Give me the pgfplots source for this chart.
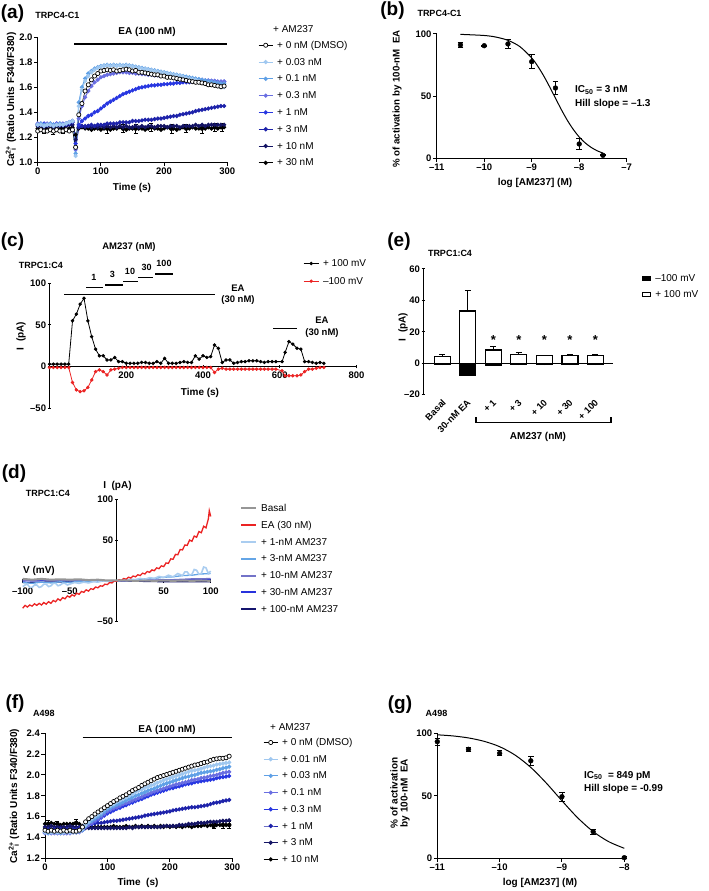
\documentclass[border=0pt]{standalone}
\usepackage{fontspec}
\setmainfont{Liberation Sans}
\usepackage{pgfplots}
\usepackage{pgfplotstable}
\pgfplotsset{compat=1.18}

\definecolor{cA}{RGB}{160,200,240}
\definecolor{cB}{RGB}{95,160,230}
\definecolor{cC}{RGB}{105,110,225}
\definecolor{cD}{RGB}{40,55,225}
\definecolor{cE}{RGB}{30,35,170}
\definecolor{cF}{RGB}{20,20,100}
\definecolor{dgray}{RGB}{150,150,150}
\definecolor{dred}{RGB}{235,35,35}
\definecolor{dA}{RGB}{170,205,240}
\definecolor{dB}{RGB}{100,165,230}
\definecolor{dC}{RGB}{115,115,200}
\definecolor{dD}{RGB}{40,50,220}
\definecolor{dE}{RGB}{20,20,110}

\newcommand{\fsz}[1]{\fontsize{#1}{#1}\selectfont}

\pgfplotsset{
  prism/.style={scale only axis, axis lines=left, axis line style={-, line width=1pt},
    tick align=outside, major tick length=3.5pt, tick style={black, line width=1pt},
    ticklabel style={font=\fsz{9.5}\bfseries, inner sep=1.5pt},
    enlargelimits=false, clip=false, anchor=south west},
  leg/.style={legend style={draw=none, fill=none, anchor=north west, inner sep=0pt,
    row sep=#1, column sep=3pt, font=\fsz{10},
    nodes={inner sep=1pt, text height=8pt, text depth=2pt}}, legend cell align=left},
  tr/.style={line width=1pt, mark=*, mark size=1.6pt},
  eb/.style={black, only marks, mark=none, forget plot,
    error bars/.cd, y dir=both, y explicit, error bar style={line width=0.7pt},
    error mark options={rotate=90, mark size=2pt, line width=0.7pt}},
}

\pgfplotstableread{
t d0 a b c e1 e3 e10 e30
0 1.25 1.30 1.30 1.31 1.30 1.30 1.29 1.27
5 1.26 1.30 1.31 1.31 1.30 1.30 1.29 1.27
10 1.25 1.29 1.30 1.30 1.31 1.29 1.28 1.26
15 1.25 1.30 1.30 1.31 1.30 1.30 1.29 1.27
20 1.26 1.30 1.31 1.31 1.30 1.30 1.29 1.27
25 1.25 1.29 1.30 1.30 1.30 1.29 1.28 1.26
30 1.26 1.30 1.30 1.31 1.31 1.30 1.29 1.27
35 1.25 1.30 1.31 1.31 1.30 1.30 1.29 1.27
40 1.25 1.30 1.30 1.31 1.30 1.30 1.29 1.28
45 1.26 1.31 1.31 1.31 1.31 1.30 1.29 1.27
50 1.25 1.32 1.32 1.32 1.32 1.31 1.30 1.27
55 1.26 1.33 1.33 1.33 1.33 1.32 1.30 1.28
60 1.12 1.05 1.07 1.10 1.15 1.12 1.18 1.22
65 1.38 1.45 1.48 1.35 1.30 1.28 1.28 1.27
70 1.47 1.58 1.60 1.45 1.33 1.29 1.29 1.28
75 1.57 1.65 1.67 1.52 1.35 1.29 1.28 1.27
80 1.62 1.69 1.71 1.57 1.37 1.29 1.29 1.27
85 1.66 1.72 1.73 1.61 1.38 1.30 1.28 1.26
90 1.69 1.74 1.75 1.64 1.40 1.29 1.29 1.27
95 1.71 1.755 1.76 1.66 1.41 1.30 1.28 1.27
100 1.73 1.765 1.77 1.68 1.43 1.30 1.29 1.26
105 1.735 1.77 1.775 1.69 1.45 1.30 1.28 1.27
110 1.74 1.775 1.78 1.70 1.47 1.31 1.29 1.27
115 1.735 1.77 1.775 1.705 1.485 1.31 1.28 1.26
120 1.74 1.775 1.78 1.71 1.50 1.31 1.29 1.27
125 1.73 1.77 1.775 1.715 1.515 1.31 1.28 1.27
130 1.735 1.775 1.78 1.72 1.53 1.32 1.29 1.28
135 1.74 1.77 1.775 1.72 1.545 1.32 1.28 1.27
140 1.745 1.775 1.78 1.72 1.555 1.32 1.29 1.26
145 1.74 1.77 1.775 1.715 1.565 1.32 1.28 1.27
150 1.73 1.765 1.77 1.715 1.575 1.33 1.28 1.27
155 1.735 1.76 1.765 1.71 1.585 1.33 1.29 1.28
160 1.72 1.755 1.76 1.71 1.595 1.33 1.28 1.27
165 1.72 1.75 1.755 1.705 1.60 1.335 1.29 1.27
170 1.715 1.745 1.75 1.705 1.605 1.34 1.28 1.26
175 1.71 1.74 1.745 1.70 1.61 1.34 1.29 1.27
180 1.705 1.735 1.74 1.70 1.615 1.34 1.29 1.28
185 1.70 1.73 1.735 1.695 1.615 1.345 1.28 1.27
190 1.70 1.725 1.73 1.695 1.62 1.35 1.29 1.27
195 1.69 1.72 1.725 1.69 1.62 1.35 1.29 1.26
200 1.69 1.715 1.72 1.69 1.625 1.355 1.29 1.27
205 1.68 1.71 1.715 1.685 1.625 1.36 1.28 1.28
210 1.68 1.705 1.71 1.685 1.63 1.365 1.29 1.27
215 1.675 1.70 1.705 1.68 1.63 1.37 1.29 1.27
220 1.67 1.695 1.70 1.68 1.635 1.37 1.29 1.26
225 1.665 1.69 1.695 1.675 1.635 1.38 1.28 1.27
230 1.66 1.685 1.69 1.675 1.64 1.385 1.29 1.28
235 1.655 1.675 1.685 1.67 1.64 1.39 1.29 1.27
240 1.65 1.67 1.68 1.67 1.64 1.395 1.29 1.27
245 1.645 1.665 1.675 1.665 1.645 1.40 1.29 1.28
250 1.64 1.66 1.67 1.665 1.645 1.41 1.30 1.27
255 1.64 1.65 1.665 1.66 1.645 1.415 1.29 1.27
260 1.635 1.64 1.66 1.66 1.645 1.42 1.30 1.28
265 1.63 1.635 1.655 1.655 1.65 1.425 1.29 1.27
270 1.62 1.63 1.65 1.655 1.65 1.43 1.30 1.28
275 1.62 1.625 1.645 1.65 1.65 1.435 1.30 1.27
280 1.615 1.62 1.64 1.65 1.65 1.44 1.30 1.28
285 1.61 1.61 1.635 1.645 1.645 1.445 1.30 1.27
290 1.605 1.60 1.63 1.645 1.645 1.45 1.30 1.28
295 1.61 1.60 1.63 1.645 1.645 1.45 1.30 1.28
}\tA

\pgfplotstableread{
t d0 a b c e g h k
0 1.47 1.45 1.45 1.44 1.45 1.48 1.50 1.53
5 1.46 1.45 1.44 1.44 1.45 1.48 1.50 1.53
10 1.47 1.45 1.45 1.44 1.45 1.48 1.51 1.54
15 1.46 1.45 1.45 1.44 1.45 1.48 1.50 1.53
20 1.47 1.45 1.45 1.44 1.45 1.48 1.50 1.53
25 1.46 1.45 1.44 1.44 1.45 1.48 1.50 1.52
30 1.47 1.45 1.45 1.44 1.45 1.48 1.50 1.53
35 1.46 1.45 1.45 1.44 1.45 1.48 1.50 1.53
40 1.47 1.45 1.45 1.44 1.45 1.48 1.51 1.53
45 1.46 1.45 1.45 1.45 1.45 1.48 1.50 1.53
50 1.46 1.45 1.45 1.45 1.45 1.48 1.50 1.54
55 1.47 1.46 1.46 1.45 1.46 1.49 1.50 1.53
60 1.50 1.48 1.47 1.47 1.47 1.50 1.50 1.51
65 1.55 1.52 1.51 1.50 1.50 1.52 1.49 1.50
70 1.58 1.55 1.54 1.52 1.52 1.53 1.49 1.50
75 1.60 1.58 1.56 1.54 1.53 1.535 1.49 1.50
80 1.625 1.60 1.58 1.56 1.55 1.535 1.49 1.50
85 1.645 1.62 1.60 1.58 1.57 1.54 1.49 1.50
90 1.665 1.64 1.62 1.60 1.59 1.54 1.49 1.50
95 1.685 1.67 1.645 1.625 1.61 1.545 1.49 1.50
100 1.705 1.69 1.67 1.65 1.63 1.55 1.49 1.50
105 1.725 1.705 1.685 1.665 1.645 1.555 1.49 1.50
110 1.745 1.72 1.70 1.68 1.66 1.56 1.49 1.51
115 1.76 1.74 1.715 1.69 1.675 1.56 1.49 1.50
120 1.78 1.755 1.725 1.705 1.685 1.565 1.49 1.50
125 1.795 1.77 1.74 1.72 1.70 1.57 1.49 1.50
130 1.81 1.785 1.755 1.73 1.71 1.575 1.49 1.51
135 1.83 1.80 1.77 1.74 1.725 1.58 1.50 1.50
140 1.85 1.815 1.785 1.755 1.735 1.585 1.49 1.50
145 1.865 1.835 1.80 1.765 1.75 1.59 1.50 1.51
150 1.88 1.85 1.81 1.78 1.76 1.595 1.50 1.50
155 1.90 1.86 1.825 1.79 1.77 1.60 1.50 1.51
160 1.915 1.875 1.835 1.805 1.785 1.61 1.50 1.50
165 1.93 1.885 1.85 1.815 1.795 1.615 1.50 1.51
170 1.945 1.90 1.86 1.83 1.81 1.62 1.50 1.50
175 1.96 1.91 1.87 1.84 1.82 1.625 1.50 1.51
180 1.975 1.925 1.885 1.85 1.83 1.63 1.50 1.50
185 1.985 1.935 1.895 1.86 1.84 1.635 1.50 1.51
190 1.995 1.95 1.91 1.87 1.85 1.64 1.51 1.50
195 2.005 1.96 1.92 1.88 1.86 1.645 1.51 1.51
200 2.015 1.97 1.93 1.89 1.87 1.65 1.51 1.50
205 2.025 1.98 1.94 1.90 1.875 1.66 1.51 1.51
210 2.035 1.99 1.95 1.91 1.885 1.665 1.51 1.50
215 2.045 2.00 1.96 1.915 1.89 1.67 1.52 1.51
220 2.055 2.01 1.97 1.925 1.90 1.675 1.52 1.50
225 2.065 2.02 1.98 1.93 1.91 1.68 1.52 1.51
230 2.075 2.03 1.985 1.94 1.915 1.685 1.53 1.51
235 2.085 2.04 1.995 1.95 1.92 1.69 1.53 1.50
240 2.095 2.045 2.00 1.955 1.93 1.69 1.53 1.51
245 2.10 2.05 2.01 1.96 1.935 1.695 1.54 1.51
250 2.11 2.06 2.02 1.97 1.94 1.70 1.54 1.51
255 2.12 2.07 2.025 1.975 1.945 1.705 1.54 1.52
260 2.125 2.08 2.03 1.98 1.95 1.71 1.545 1.51
265 2.14 2.085 2.035 1.99 1.955 1.72 1.55 1.52
270 2.15 2.09 2.04 1.995 1.96 1.73 1.55 1.51
275 2.155 2.10 2.05 2.00 1.97 1.735 1.55 1.52
280 2.16 2.105 2.055 2.01 1.975 1.74 1.555 1.52
285 2.16 2.11 2.065 2.02 1.98 1.75 1.56 1.52
290 2.165 2.115 2.07 2.025 1.985 1.755 1.56 1.52
295 2.18 2.12 2.08 2.03 1.99 1.76 1.565 1.52
}\tF

\pgfplotstableread{
t p m
0 3 -1
10 3 -1
20 3 -1
30 3 -1
40 3 -1
50 3 -1
60 55 -19
70 63 -28
80 75 -30
90 82 -29
100 55 -25
110 36 -16
120 21 -6
130 13 -4
140 13 -6
150 8 -10
160 8 -4
170 11 -3
180 6 -2
190 6 -1
200 4 -1
210 4 -1
220 4 -1
230 4 -1
240 5 -1
250 5 -1
260 4 -1
270 4 -1
280 6 -1
290 4 -1
300 10 -1
310 4 -1
320 4 -1
330 4 -1
340 5 -1
350 6 -1
360 5 -1
370 5 -1
380 13 -1
390 9 -1
400 13 -1
410 11 -1
420 12 -1
430 26 -7
440 22 -3
450 5 -2
460 8 -3
470 8 -3
480 4 -3
490 5 -3
500 6 -3
510 6 -3
520 7 -3
530 7 -3
540 7 -3
550 6 -3
560 5 -3
570 6 -3
580 6 -3
590 6 -3
606 6 -5
614 17 -11
624 30 -11
634 27 -11
645 22 -11
655 21 -10
665 6 -6
675 6 -3
685 5 -3
695 4 -2
705 5 -1
715 4 -1
}\tC

\begin{document}
\begin{tikzpicture}
\path[use as bounding box] (0,0) rectangle (709pt,891pt);

% ---------------- (a)
\begin{axis}[prism, at={(37.7pt,728.7pt)}, width=189.6pt, height=125pt,
  xmin=0, xmax=300, ymin=1, ymax=2,
  xtick={0,100,200,300}, xticklabels={0,100,200,300},
  ytick={1,1.2,1.4,1.6,1.8,2}, yticklabels={1.0,1.2,1.4,1.6,1.8,2.0},
  leg=4.8pt, legend style={at={(1.162,0.986)}}, reverse legend,
  legend image code/.code={\draw[mark repeat=2,mark phase=2,#1] plot coordinates {(0pt,0pt) (7pt,0pt) (14pt,0pt)};}]
\addplot[eb] coordinates {(10,1.26) +- (0,0.03) (25,1.25) +- (0,0.03) (40,1.26) +- (0,0.03) (110,1.27) +- (0,0.035) (135,1.27) +- (0,0.03) (155,1.27) +- (0,0.035) (180,1.28) +- (0,0.03) (212,1.27) +- (0,0.035) (235,1.27) +- (0,0.03) (260,1.27) +- (0,0.035) (280,1.28) +- (0,0.03) (292,1.28) +- (0,0.035)};
\addplot[black, tr] table[x=t,y=e30]{\tA}; \addlegendentry{+ 30 nM}
\addplot[cF, tr] table[x=t,y=e10]{\tA}; \addlegendentry{+ 10 nM}
\addplot[cE, tr] table[x=t,y=e3]{\tA}; \addlegendentry{+ 3 nM}
\addplot[cD, tr] table[x=t,y=e1]{\tA}; \addlegendentry{+ 1 nM}
\addplot[cC, tr] table[x=t,y=c]{\tA}; \addlegendentry{+ 0.3 nM}
\addplot[cB, tr] table[x=t,y=b]{\tA}; \addlegendentry{+ 0.1 nM}
\addplot[cA, tr] table[x=t,y=a]{\tA}; \addlegendentry{+ 0.03 nM}
\addplot[black, line width=0.6pt, mark=*, mark size=2.1pt, mark options={fill=white, line width=0.7pt}] table[x=t,y=d0]{\tA}; \addlegendentry{+ 0 nM (DMSO)}
\end{axis}

% ---------------- (b)
\begin{axis}[prism, at={(436.7pt,732.3pt)}, width=190pt, height=124.7pt,
  xmin=-11, xmax=-7, ymin=0, ymax=100,
  xtick={-11,-10,-9,-8,-7}, xticklabels={--11,--10,--9,--8,--7},
  ytick={0,50,100}, yticklabels={0,50,100}]
\addplot[black, line width=1pt, smooth] coordinates {(-10.5,99.7) (-10,98.8) (-9.75,97.5) (-9.5,94.9) (-9.25,89.9) (-9,80.8) (-8.875,74.3) (-8.75,66.6) (-8.625,57.8) (-8.5,48.5) (-8.375,39.3) (-8.25,30.8) (-8.125,23.5) (-8,17.4) (-7.875,12.7) (-7.75,9.1) (-7.625,6.4) (-7.5,4.5)};
\addplot[black, only marks, mark=*, mark size=2.4pt,
  error bars/.cd, y dir=both, y explicit, error bar style={line width=0.9pt},
  error mark options={rotate=90, mark size=2.8pt, line width=0.9pt}]
  table[x=x, y=y, y error=e]{
x y e
-10.5 91.2 2
-10 90.6 0.5
-9.5 92 3.5
-9 77.8 5.6
-8.5 56.7 5.3
-8 11.8 4.7
-7.5 2.7 0.5
};
\end{axis}

% ---------------- (c)
\begin{axis}[prism, axis lines=middle, axis line style={-, line width=1pt},
  at={(49.5pt,482.7pt)}, width=307pt, height=125pt,
  xmin=0, xmax=800, ymin=-50, ymax=100,
  xtick={200,400,600,800}, xticklabels={200,400,600,800},
  xticklabel shift=2pt,
  ytick={-50,0,50,100}, yticklabels={--50,0,50,100},
  hide obscured y ticks=false, hide obscured x ticks=false,
  leg=5.7pt, legend style={at={(0.826,1.208)}}, reverse legend,
  legend image code/.code={\draw[mark repeat=2,mark phase=2,#1] plot coordinates {(0pt,0pt) (7.5pt,0pt) (15pt,0pt)};}]
\addplot[dred, line width=0.8pt, mark=*, mark size=1.3pt] table[x=t,y=m]{\tC}; \addlegendentry{--100 mV}
\addplot[black, line width=0.8pt, mark=*, mark size=1.3pt] table[x=t,y=p]{\tC}; \addlegendentry{+ 100 mV}
\end{axis}

% ---------------- (e)
\begin{axis}[prism, axis x line=middle, axis y line=left, axis line style={-, line width=1pt},
  at={(423.3pt,496.3pt)}, width=190pt, height=125.7pt,
  xmin=-0.745, xmax=6.7, ymin=-20, ymax=60,
  xtick={0,1,2,3,4,5,6}, xticklabels={},
  ytick={-20,0,20,40,60}, yticklabels={--20,0,20,40,60},
  hide obscured x ticks=false,
  leg=4pt, legend style={at={(1.149,0.974)}},
  legend image code/.code={\draw[#1, line width=1pt] (0pt,-2.4pt) rectangle (8.5pt,2.4pt);}]
\addplot[ybar, bar width=16pt, bar shift=0pt, fill=black, draw=black, line width=1.2pt]
  coordinates {(0,-0.5) (1,-7.5) (2,-1.5) (3,-1) (4,-1) (5,-1) (6,-1)}; \addlegendentry{--100 mV}
\addplot[ybar, bar width=16pt, bar shift=0pt, fill=white, draw=black, line width=1.2pt,
  error bars/.cd, y dir=plus, y explicit, error bar style={line width=1.2pt},
  error mark options={rotate=90, mark size=3pt, line width=1.2pt}]
  table[x=x, y=y, y error=e]{
x y e
0 4.2 1.5
1 33.3 12.9
2 8.5 2.1
3 5.7 0.9
4 4.7 0.3
5 5.1 0.6
6 4.8 0.7
}; \addlegendentry{+ 100 mV}
\node[font=\fsz{13}\bfseries, inner sep=0pt] at (axis cs:2,14.5) {*};
\node[font=\fsz{13}\bfseries, inner sep=0pt] at (axis cs:3,14.5) {*};
\node[font=\fsz{13}\bfseries, inner sep=0pt] at (axis cs:4,14.5) {*};
\node[font=\fsz{13}\bfseries, inner sep=0pt] at (axis cs:5,14.5) {*};
\node[font=\fsz{13}\bfseries, inner sep=0pt] at (axis cs:6,14.5) {*};
\node[font=\fsz{9.3}\bfseries, rotate=45, anchor=east, inner sep=0pt] at (axis cs:0.08,-24) {Basal};
\node[font=\fsz{9.3}\bfseries, rotate=45, anchor=east, inner sep=0pt] at (axis cs:1.05,-24) {30-nM EA};
\node[font=\fsz{9.3}\bfseries, rotate=45, anchor=east, inner sep=0pt] at (axis cs:2.05,-24) {+ 1};
\node[font=\fsz{9.3}\bfseries, rotate=45, anchor=east, inner sep=0pt] at (axis cs:3.05,-24) {+ 3};
\node[font=\fsz{9.3}\bfseries, rotate=45, anchor=east, inner sep=0pt] at (axis cs:4.05,-24) {+ 10};
\node[font=\fsz{9.3}\bfseries, rotate=45, anchor=east, inner sep=0pt] at (axis cs:5.05,-24) {+ 30};
\node[font=\fsz{9.3}\bfseries, rotate=45, anchor=east, inner sep=0pt] at (axis cs:6.05,-24) {+ 100};
\end{axis}

% ---------------- (d)
\begin{axis}[prism, axis lines=middle, axis line style={-, line width=1pt},
  at={(22.7pt,269.3pt)}, width=188pt, height=122.4pt,
  xmin=-100, xmax=100, ymin=-50, ymax=100,
  xtick={-100,-50,50,100}, xticklabels={--100,--50,50,100},
  xticklabel shift=4pt,
  ytick={-50,50,100}, yticklabels={--50,50,100},
  leg=4.8pt, legend style={at={(1.156,0.9755)}}, reverse legend,
  legend image code/.code={\draw[#1, line width=2pt] (0pt,0pt) -- (15pt,0pt);}]
\addplot[color=dE, line width=1.3pt] coordinates {(-100,-2) (-75,-1.5) (-50,-1) (-25,-0.5) (0,0) (25,-0.5) (50,-1) (75,-1) (100,-1)}; \addlegendentry{+ 100-nM AM237}
\addplot[color=dD, line width=1.3pt] coordinates {(-100,0) (-75,0.5) (-50,0.5) (-25,0) (0,0) (25,0.5) (50,1) (75,1.5) (100,2)}; \addlegendentry{+ 30-nM AM237}
\addplot[color=dC, line width=1.3pt] coordinates {(-100,1) (-90,0.5) (-80,1.5) (-70,0.5) (-60,1) (-50,0) (-40,0.5) (-30,0) (-20,0.5) (-10,0) (0,0) (10,0.5) (20,0.5) (30,1) (40,1) (50,1.5) (60,1.5) (70,2) (80,2.5) (90,2.5) (100,3)}; \addlegendentry{+ 10-nM AM237}
\addplot[color=dB, line width=1.3pt] coordinates {(-100,-2) (-90,-3) (-80,-1.5) (-70,-2.5) (-60,-1) (-50,-2) (-40,-0.5) (-30,-1) (-20,0) (-10,-0.5) (0,0) (10,1) (20,1.5) (30,2.5) (40,3) (50,4.5) (60,5) (70,6.5) (80,7) (90,8.5) (100,9)}; \addlegendentry{+ 3-nM AM237}
\addplot[color=dA, line width=1.6pt] coordinates {(-100,-7) (-97.5,-5) (-95,-4) (-92.5,-8) (-90,-8) (-87.5,-5) (-85,-5) (-82.5,-8) (-80,-7) (-77.5,-4) (-75,-4) (-72.5,-7) (-70,-6) (-67.5,-3) (-65,-3) (-62.5,-6) (-60,-5) (-57.5,-3) (-55,-3) (-52.5,-5) (-50,-4) (-45,-2) (-40,-3) (-35,-1.5) (-30,-2.5) (-25,-1) (-20,-1.5) (-15,0) (-10,-0.5) (-5,0.5) (0,0) (5,1) (10,0.5) (15,2) (20,1.5) (25,3) (30,2) (35,4) (40,3) (45,5.5) (50,4) (55,7) (60,5) (65,9) (70,6.5) (72.5,11) (75,11) (77.5,7) (80,8) (82.5,14) (85,13) (87.5,8) (90,9) (92.5,17) (95,16) (97.5,9) (100,12)}; \addlegendentry{+ 1-nM AM237}
\addplot[color=dred, line width=1.3pt] coordinates {(-100,-33.5) (-97.5,-30.0) (-95,-32.0) (-92.5,-29.5) (-90,-31.0) (-87.5,-28.0) (-85,-30.0) (-82.5,-27.5) (-80,-29.5) (-77.5,-26.5) (-75,-28.5) (-72.5,-25.5) (-70,-27.5) (-67.5,-24.0) (-65,-25.5) (-62.5,-22.0) (-60,-24.0) (-57.5,-20.5) (-55,-22.0) (-52.5,-18.5) (-50,-20.0) (-47.5,-17.0) (-45,-18.5) (-42.5,-15.0) (-40,-16.5) (-37.5,-13.0) (-35,-14.0) (-32.5,-11.0) (-30,-12.5) (-27.5,-9.5) (-25,-10.5) (-22.5,-7.5) (-20,-8.5) (-17.5,-6.0) (-15,-6.5) (-12.5,-4.0) (-10,-4.5) (-7.5,-2.0) (-5,-2.5) (-2.5,0.0) (0,-0.5) (2.5,1.5) (5,0.5) (7.5,3.0) (10,2.0) (12.5,4.5) (15,3.5) (17.5,6.0) (20,5.0) (22.5,7.5) (25,6.5) (27.5,9.5) (30,8.5) (32.5,11.5) (35,10.5) (37.5,13.5) (40,12.5) (42.5,16.0) (45,15.0) (47.5,18.5) (50,17.5) (52.5,22.0) (55,21.5) (57.5,27.0) (60,26.5) (62.5,32.5) (65,32.0) (67.5,38.5) (70,38.0) (72.5,44.0) (75,43.5) (77.5,50.0) (80,48.5) (82.5,55.0) (85,53.5) (87.5,60.5) (90,59.0) (92.5,67.0) (95,65.0) (97.5,76.0) (98.5,86.0) (100,79.0)}; \addlegendentry{EA (30 nM)}
\addplot[color=dgray, line width=2pt] coordinates {(-100,2.5) (-90,1.5) (-80,2.5) (-70,1.5) (-60,2) (-50,1.5) (-40,2) (-30,1) (-20,1.5) (-10,0.5) (0,0.5) (10,0.5) (20,0) (30,0.5) (40,0) (50,0.5) (60,0) (70,0.5) (80,0) (90,0.5) (100,0)}; \addlegendentry{Basal}
\end{axis}

% ---------------- (f)
\begin{axis}[prism, at={(45pt,32.7pt)}, width=187.3pt, height=125pt,
  xmin=0, xmax=300, ymin=1.2, ymax=2.4,
  xtick={0,100,200,300}, xticklabels={0,100,200,300},
  ytick={1.2,1.4,1.6,1.8,2.0,2.2,2.4}, yticklabels={1.2,1.4,1.6,1.8,2.0,2.2,2.4},
  leg=4.7pt, legend style={at={(1.164,0.976)}}, reverse legend,
  legend image code/.code={\draw[mark repeat=2,mark phase=2,#1] plot coordinates {(0pt,0pt) (7pt,0pt) (14pt,0pt)};}]
\addplot[eb] coordinates {(5,1.53) +- (0,0.03) (20,1.53) +- (0,0.025) (50,1.54) +- (0,0.03) (270,1.51) +- (0,0.025) (285,1.52) +- (0,0.03) (295,1.52) +- (0,0.03)};
\addplot[black, tr] table[x=t,y=k]{\tF}; \addlegendentry{+ 10 nM}
\addplot[cF, tr] table[x=t,y=h]{\tF}; \addlegendentry{+ 3 nM}
\addplot[cE, tr] table[x=t,y=g]{\tF}; \addlegendentry{+ 1 nM}
\addplot[cD, tr] table[x=t,y=e]{\tF}; \addlegendentry{+ 0.3 nM}
\addplot[cC, tr] table[x=t,y=c]{\tF}; \addlegendentry{+ 0.1 nM}
\addplot[cB, tr] table[x=t,y=b]{\tF}; \addlegendentry{+ 0.03 nM}
\addplot[cA, tr] table[x=t,y=a]{\tF}; \addlegendentry{+ 0.01 nM}
\addplot[black, line width=0.6pt, mark=*, mark size=2.1pt, mark options={fill=white, line width=0.7pt}] table[x=t,y=d0]{\tF}; \addlegendentry{+ 0 nM (DMSO)}
\end{axis}

% ---------------- (g)
\begin{axis}[prism, at={(437.3pt,32.7pt)}, width=187pt, height=125pt,
  xmin=-11, xmax=-8, ymin=0, ymax=100,
  xtick={-11,-10,-9,-8}, xticklabels={--11,--10,--9,--8},
  ytick={0,50,100}, yticklabels={0,50,100}]
\addplot[black, line width=1pt, smooth] coordinates {(-11,98.8) (-10.75,97.9) (-10.5,96.3) (-10.25,93.6) (-10,89.3) (-9.75,82.5) (-9.5,72.7) (-9.25,60.1) (-9,46.0) (-8.75,32.5) (-8.5,21.4) (-8.25,13.3) (-8,8.0)};
\addplot[black, only marks, mark=*, mark size=2.4pt,
  error bars/.cd, y dir=both, y explicit, error bar style={line width=0.9pt},
  error mark options={rotate=90, mark size=2.8pt, line width=0.9pt}]
  table[x=x, y=y, y error=e]{
x y e
-11 93.3 2.7
-10.5 87.2 1.5
-10 84 2
-9.5 78 3.5
-9 49.3 3.5
-8.5 21.3 2
-8 0.5 1
};
\end{axis}

% ---------------- annotations (pixel coordinates from top-left)
\begin{scope}[shift={(0pt,891pt)}, x=1pt, y=-1pt]
\tikzset{every node/.style={inner sep=0pt}}
% (a)
\node[font=\fsz{19}\bfseries] at (12.5,13.5) {(a)};
\node[font=\fsz{9}\bfseries] at (57.5,15.5) {TRPC4-C1};
\node[font=\fsz{10}\bfseries] at (147,32) {EA (100 nM)};
\draw[line width=1.3pt] (74,44) -- (227,44);
\node[font=\fsz{10}, anchor=west] at (273,29) {+ AM237};
\node[font=\fsz{10}\bfseries, rotate=90] at (11,99.5) {Ca\rlap{\textsuperscript{2+}}\textsubscript{\hspace{4pt}i}\hspace{2pt} (Ratio Units F340/F380)};
\node[font=\fsz{10}\bfseries] at (132,188) {Time (s)};
% (b)
\node[font=\fsz{19}\bfseries] at (392.5,11) {(b)};
\node[font=\fsz{9}\bfseries] at (439.5,13) {TRPC4-C1};
\node[font=\fsz{9.7}\bfseries, rotate=90] at (397,99) {\% of activation by 100-nM\ \ EA};
\node[font=\fsz{10}\bfseries] at (535,183) {log [AM237] (M)};
\node[font=\fsz{10}\bfseries, anchor=west] at (575,90) {IC\textsubscript{50} = 3 nM};
\node[font=\fsz{10}\bfseries, anchor=west] at (575,104) {Hill slope = --1.3};
% (c)
\node[font=\fsz{19}\bfseries] at (12.5,241.5) {(c)};
\node[font=\fsz{9}\bfseries] at (41,265) {TRPC1:C4};
\node[font=\fsz{9.5}\bfseries] at (129,247) {AM237 (nM)};
\draw[line width=1.3pt] (86,287.7) -- (103,287.7);
\draw[line width=1.3pt] (105,285) -- (123,285);
\draw[line width=1.3pt] (123,281.3) -- (138,281.3);
\draw[line width=1.3pt] (138,277.7) -- (153,277.7);
\draw[line width=1.3pt] (155,274) -- (173,274);
\node[font=\fsz{9}\bfseries] at (94,277) {1};
\node[font=\fsz{9}\bfseries] at (112.3,274.5) {3};
\node[font=\fsz{9}\bfseries] at (130,271) {10};
\node[font=\fsz{9}\bfseries] at (146.7,267) {30};
\node[font=\fsz{9}\bfseries] at (164,263.5) {100};
\draw[line width=1.3pt] (64.3,294.3) -- (215,294.3);
\node[font=\fsz{9.5}\bfseries] at (238,288) {EA};
\node[font=\fsz{9.5}\bfseries] at (238,300.5) {(30 nM)};
\draw[line width=1.3pt] (273,328.3) -- (297,328.3);
\node[font=\fsz{9.5}\bfseries] at (322,320) {EA};
\node[font=\fsz{9.5}\bfseries] at (322,332.7) {(30 nM)};
\node[font=\fsz{10}\bfseries, rotate=90] at (21,336) {I\ \ (pA)};
\node[font=\fsz{10}\bfseries] at (200,393.3) {Time (s)};
% (e)
\node[font=\fsz{19}\bfseries] at (399,242) {(e)};
\node[font=\fsz{9}\bfseries] at (450,253) {TRPC1:C4};
\node[font=\fsz{10}\bfseries, rotate=90] at (403,327) {I\ \ (pA)};
\draw[line width=1.2pt] (476,417.5) -- (476,422.3) -- (611,422.3) -- (611,417.5);
\node[font=\fsz{10}\bfseries] at (538,436.7) {AM237 (nM)};
% (d)
\node[font=\fsz{19}\bfseries] at (14,474) {(d)};
\node[font=\fsz{9}\bfseries] at (48,493.3) {TRPC1:C4};
\node[font=\fsz{10}\bfseries] at (117.5,486) {I\ \ (pA)};
\node[font=\fsz{10}\bfseries] at (39,570.7) {V (mV)};
% (f)
\node[font=\fsz{19}\bfseries] at (15,704) {(f)};
\node[font=\fsz{9}\bfseries] at (44,713.3) {A498};
\node[font=\fsz{10}\bfseries] at (167,730) {EA (100 nM)};
\draw[line width=1.3pt] (82.7,737.3) -- (232.3,737.3);
\node[font=\fsz{10}, anchor=west] at (270,726.7) {+ AM237};
\node[font=\fsz{10}\bfseries, rotate=90] at (14,796) {Ca\rlap{\textsuperscript{2+}}\textsubscript{\hspace{4pt}i}\hspace{2pt} (Ratio Units F340/F380)};
\node[font=\fsz{10}\bfseries] at (138,883) {Time\ \ (s)};
% (g)
\node[font=\fsz{19}\bfseries] at (400,705) {(g)};
\node[font=\fsz{9}\bfseries] at (436.5,713) {A498};
\node[font=\fsz{10}\bfseries, rotate=90, align=center] at (400,793) {\% of activation\\by 100-nM\ \ EA};
\node[font=\fsz{10}\bfseries] at (540,883) {log [AM237] (M)};
\node[font=\fsz{10}\bfseries, anchor=west] at (584,775.7) {IC\textsubscript{50}\ \ = 849 pM};
\node[font=\fsz{10}\bfseries, anchor=west] at (584,789.3) {Hill slope = -0.99};
\end{scope}
\end{tikzpicture}
\end{document}
